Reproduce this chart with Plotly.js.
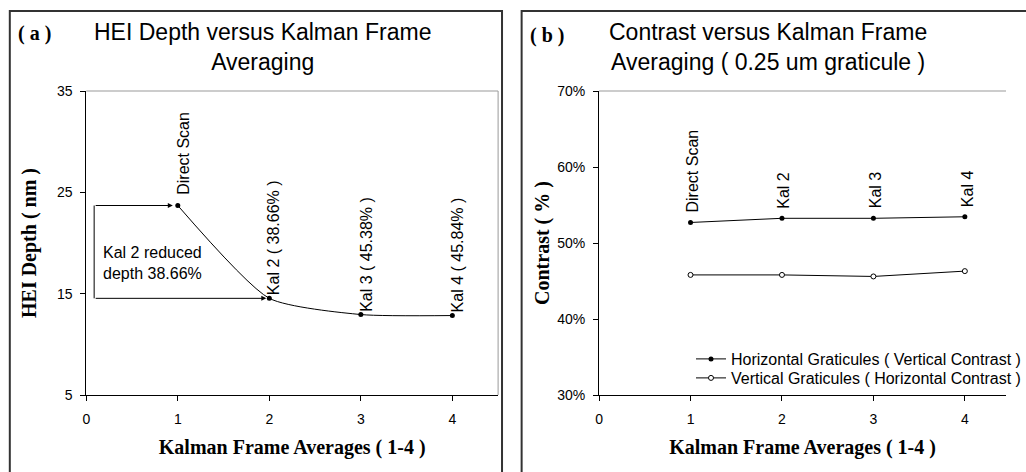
<!DOCTYPE html>
<html>
<head>
<meta charset="utf-8">
<script src="https://cdn.plot.ly/plotly-3.0.1.min.js"></script>
<style>html,body{margin:0;padding:0;background:#fff;}#chart{width:1026px;height:472px;}</style>
</head>
<body>
<div id="chart"></div>
<script>
// ---- data ----
const frames = [1, 2, 3, 4];
const depthNm = [23.7, 14.54, 12.94, 12.84];
const depthLabels = ['Direct Scan', 'Kal 2 ( 38.66% )', 'Kal 3 ( 45.38% )', 'Kal 4 ( 45.84% )'];
const horizContrast = [52.7, 53.25, 53.25, 53.45];
const vertContrast = [45.8, 45.8, 45.6, 46.3];
const contrastLabels = ['Direct Scan', 'Kal 2', 'Kal 3', 'Kal 4'];
const seriesNames = ['Horizontal Graticules ( Vertical Contrast )', 'Vertical Graticules ( Horizontal Contrast )'];
const titleA = 'HEI Depth versus Kalman Frame<br>Averaging';
const titleB = 'Contrast versus Kalman Frame<br>Averaging ( 0.25 um graticule )';
const noteText = 'Kal 2 reduced<br>depth 38.66%';
const xTitle = 'Kalman Frame Averages ( 1-4 )';
const yTitleA = 'HEI Depth ( nm )';
const yTitleB = 'Contrast ( % )';
const xTicks = [0, 1, 2, 3, 4];

// ---- layout helpers ----
const W = 1026, H = 472;
const px = v => v / W;
const py = v => 1 - v / H;
const sans = 'Liberation Sans, Arial, sans-serif';
const serif = 'Liberation Serif, Times New Roman, serif';

const traces = [
  {x: frames, y: depthNm, xaxis: 'x', yaxis: 'y', mode: 'lines+markers', showlegend: false,
   line: {color: '#000', width: 1, shape: 'spline', smoothing: 0.6}, marker: {color: '#000', size: 5}},
  {x: frames, y: horizContrast, xaxis: 'x2', yaxis: 'y2', mode: 'lines+markers', name: seriesNames[0],
   legend: 'legend', line: {color: '#000', width: 1}, marker: {color: '#000', size: 5}},
  {x: frames, y: vertContrast, xaxis: 'x2', yaxis: 'y2', mode: 'lines+markers', name: seriesNames[1],
   legend: 'legend2', line: {color: '#000', width: 1}, marker: {color: '#fff', size: 5, line: {color: '#000', width: 1}}}
];

const axisCommon = {
  showline: true, linecolor: '#000', linewidth: 1, ticks: 'outside', ticklen: 5, tickcolor: '#000',
  showgrid: false, zeroline: false, tickfont: {family: sans, size: 14, color: '#000'}
};

const annotations = [];
depthLabels.forEach((t, i) => annotations.push({
  x: frames[i], y: depthNm[i], xref: 'x', yref: 'y', text: t, textangle: -90, showarrow: false,
  xanchor: 'center', yanchor: 'bottom', xshift: 5, yshift: i === 0 ? 9 : 1,
  font: {family: sans, size: 16, color: '#000'}
}));
contrastLabels.forEach((t, i) => annotations.push({
  x: frames[i], y: horizContrast[i], xref: 'x2', yref: 'y2', text: t, textangle: -90, showarrow: false,
  xanchor: 'center', yanchor: 'bottom', xshift: 2, yshift: 8,
  font: {family: sans, size: 16, color: '#000'}
}));
annotations.push(
  {x: px(268), y: py(47), xref: 'paper', yref: 'paper', text: titleA, showarrow: false,
   xanchor: 'center', yanchor: 'middle', font: {family: sans, size: 23, color: '#000'}},
  {x: px(783), y: py(47), xref: 'paper', yref: 'paper', text: titleB, showarrow: false,
   xanchor: 'center', yanchor: 'middle', font: {family: sans, size: 23, color: '#000'}},
  {x: px(16), y: py(33), xref: 'paper', yref: 'paper', text: '<b>( a )</b>', showarrow: false,
   xanchor: 'left', yanchor: 'middle', font: {family: serif, size: 20, color: '#000'}},
  {x: px(538), y: py(35), xref: 'paper', yref: 'paper', text: '<b>( b )</b>', showarrow: false,
   xanchor: 'left', yanchor: 'middle', font: {family: serif, size: 20, color: '#000'}},
  {x: 0.16, y: 18, xref: 'x', yref: 'y', text: noteText, showarrow: false, align: 'left',
   xanchor: 'left', yanchor: 'middle', font: {family: sans, size: 16, color: '#000'}},
  // bracket arrows
  {x: frames[0], y: depthNm[0], ax: 0.086, ay: depthNm[0], xref: 'x', yref: 'y', axref: 'x', ayref: 'y',
   text: '', showarrow: true, arrowhead: 2, arrowsize: 1, arrowwidth: 1, arrowcolor: '#000', standoff: 5},
  {x: frames[1], y: depthNm[1], ax: 0.086, ay: depthNm[1], xref: 'x', yref: 'y', axref: 'x', ayref: 'y',
   text: '', showarrow: true, arrowhead: 2, arrowsize: 1, arrowwidth: 1, arrowcolor: '#000', standoff: 3}
);

const shapes = [
  // panel frames
  {type: 'rect', xref: 'paper', yref: 'paper', x0: px(10), x1: px(512), y0: -0.2, y1: py(11),
   line: {color: '#333', width: 2}},
  {type: 'rect', xref: 'paper', yref: 'paper', x0: px(532), x1: 1.2, y0: -0.2, y1: py(11),
   line: {color: '#333', width: 2}},
  // plot area borders (gray)
  {type: 'line', xref: 'x domain', yref: 'y domain', x0: 0, x1: 1, y0: 1, y1: 1, line: {color: '#999', width: 1}},
  {type: 'line', xref: 'x domain', yref: 'y domain', x0: 1, x1: 1, y0: 0, y1: 1, line: {color: '#999', width: 1}},
  {type: 'line', xref: 'x2 domain', yref: 'y2 domain', x0: 0, x1: 1, y0: 1, y1: 1, line: {color: '#999', width: 1}},
  // bracket vertical line
  {type: 'line', xref: 'x', yref: 'y', x0: 0.086, x1: 0.086, y0: depthNm[0], y1: depthNm[1],
   line: {color: '#000', width: 1}}
];

const xTitleObj = () => ({text: '<b>' + xTitle + '</b>', font: {family: serif, size: 20, color: '#000'}, standoff: 14});
const legendCommon = {xanchor: 'left', yanchor: 'top', bgcolor: 'rgba(0,0,0,0)',
  font: {family: sans, size: 16, color: '#000'}, tracegroupgap: 0};

const layout = {
  width: W, height: H, margin: {l: 0, r: 0, t: 0, b: 0},
  paper_bgcolor: '#fff', plot_bgcolor: '#fff', showlegend: true,
  xaxis: Object.assign({}, axisCommon, {domain: [px(88), px(508)], range: [0, 4.5], tickvals: xTicks,
    ticklabelstandoff: 6, anchor: 'y', title: xTitleObj()}),
  yaxis: Object.assign({}, axisCommon, {domain: [py(395), py(91)], range: [5, 35], tick0: 5, dtick: 10,
    ticklabelstandoff: 5, anchor: 'x', title: {text: '<b>' + yTitleA + '</b>', font: {family: serif, size: 20, color: '#000'}}}),
  xaxis2: Object.assign({}, axisCommon, {domain: [px(611), 1], range: [0, 4.45], tickvals: xTicks,
    ticklabelstandoff: 6, anchor: 'y2', title: xTitleObj()}),
  yaxis2: Object.assign({}, axisCommon, {domain: [py(395), py(91)], range: [30, 70], tick0: 30, dtick: 10,
    ticklabelstandoff: 5, ticksuffix: '%', anchor: 'x2', title: {text: '<b>' + yTitleB + '</b>', font: {family: serif, size: 20, color: '#000'}}}),
  legend: Object.assign({x: px(705), y: py(342)}, legendCommon),
  legend2: Object.assign({x: px(705), y: py(361)}, legendCommon),
  annotations: annotations, shapes: shapes
};

Plotly.newPlot('chart', traces, layout, {displayModeBar: false, staticPlot: true});
</script>
</body>
</html>
